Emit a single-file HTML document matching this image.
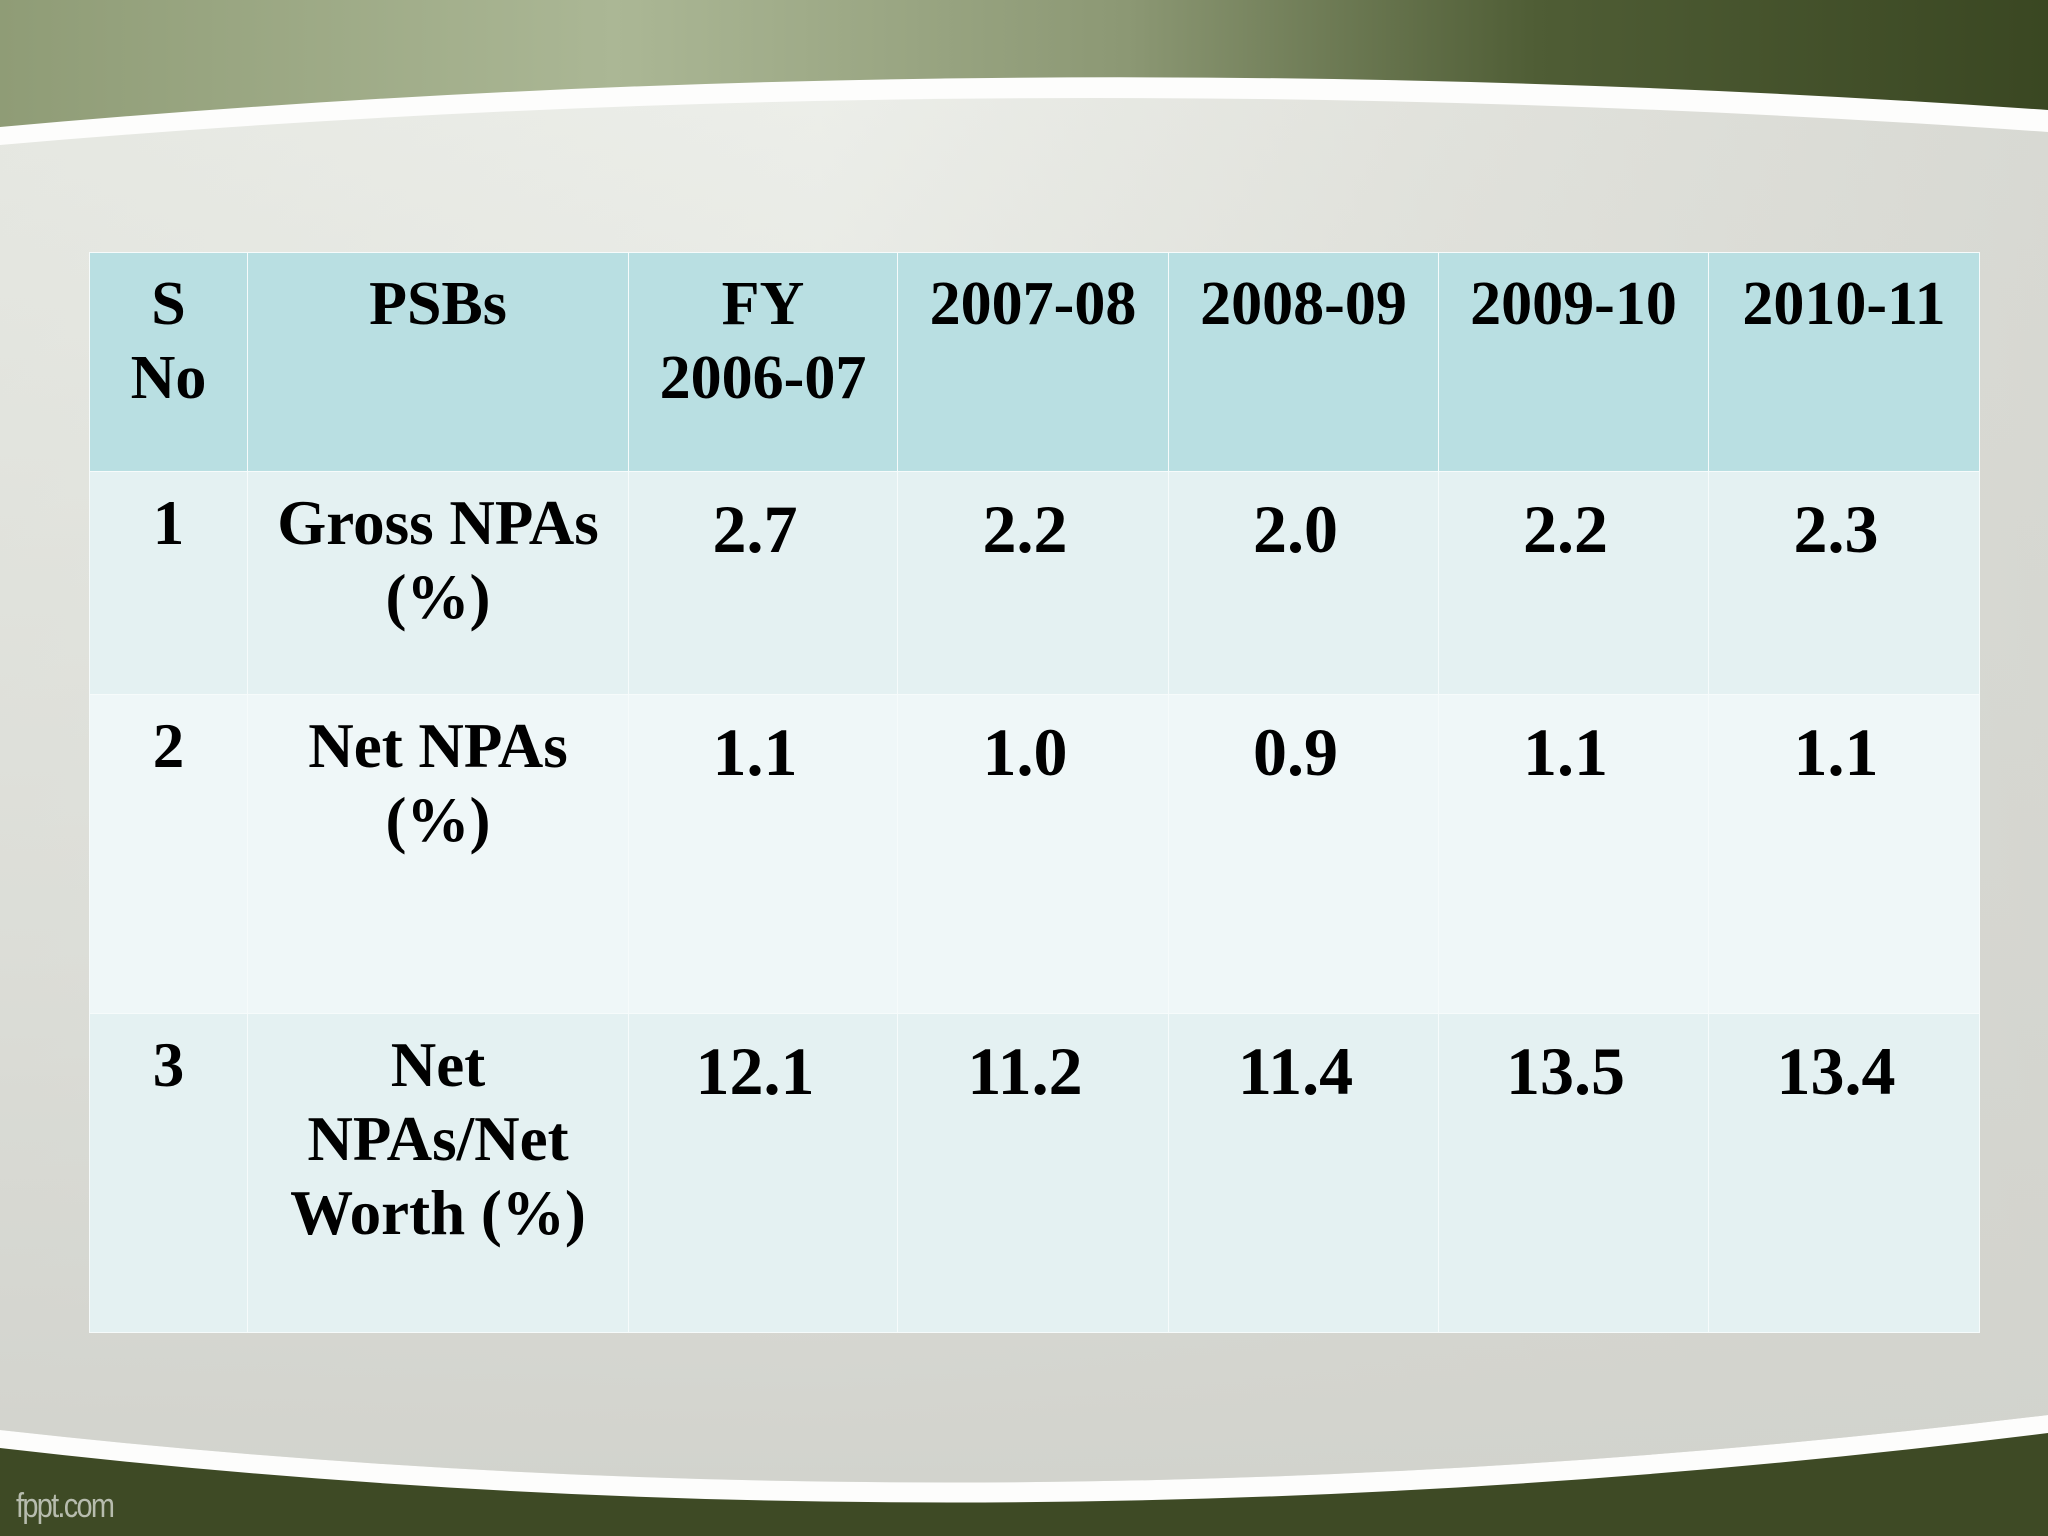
<!DOCTYPE html>
<html><head><meta charset="utf-8"><style>
html,body{margin:0;padding:0;width:2048px;height:1536px;overflow:hidden}
#bg{position:absolute;left:0;top:0}
table{position:absolute;left:89px;top:252px;width:1890px;border-collapse:collapse;font-family:"Liberation Serif",serif;font-weight:bold;color:#000;table-layout:fixed}
td{border:1.5px solid #f6fbfb;vertical-align:top;text-align:center;font-size:63px;line-height:74px;padding:14px 4px 0 4px;box-sizing:border-box}
tr.h td{font-size:62px}
tr.h td{background:#b9dfe2}
tr.r1 td,tr.r3 td{background:#e4f1f2}
tr.r2 td{background:#eff7f8}
td.v{font-size:68px;padding-top:20px;padding-right:20px}
#logo{position:absolute;left:16px;top:1487px;font-family:"Liberation Sans",sans-serif;font-size:34px;color:#b7bcae;letter-spacing:-2px;transform:scaleX(0.85);transform-origin:left}
</style></head><body>
<svg id="bg" width="2048" height="1536" viewBox="0 0 2048 1536">
<defs>
<linearGradient id="g" x1="0" x2="1" y1="0" y2="0">
<stop offset="0" stop-color="#8f9c76"/><stop offset="0.3" stop-color="#abb795"/><stop offset="0.55" stop-color="#8c9874"/><stop offset="0.75" stop-color="#4f5d35"/><stop offset="1" stop-color="#3a4722"/></linearGradient>
<linearGradient id="p" x1="0" x2="1" y1="0" y2="0">
<stop offset="0" stop-color="#e6e8e2"/><stop offset="0.4" stop-color="#eceee9"/><stop offset="0.7" stop-color="#e1e2dc"/><stop offset="1" stop-color="#d8d9d3"/></linearGradient>
<linearGradient id="pv" x1="0" x2="0" y1="0" y2="1">
<stop offset="0" stop-color="#d2d3cd" stop-opacity="0"/><stop offset="0.6" stop-color="#d2d3cd" stop-opacity="0.5"/><stop offset="1" stop-color="#d2d3cd" stop-opacity="1"/></linearGradient>
</defs>
<rect width="2048" height="1536" fill="url(#g)"/>
<rect y="1380" width="2048" height="156" fill="#3e4a25"/>
<path d="M0 127 Q1000 37 2048 110 L2048 1433 Q1000 1564 0 1448 Z" fill="#fdfdfc"/>
<path d="M0 145 Q1000 58 2048 132 L2048 1415 Q1000 1542 0 1430 Z" fill="url(#p)"/>
<path d="M0 145 Q1000 58 2048 132 L2048 1415 Q1000 1542 0 1430 Z" fill="url(#pv)"/>
</svg>
<table>
<colgroup><col style="width:158px"><col style="width:381px"><col style="width:269px"><col style="width:271px"><col style="width:270px"><col style="width:270px"><col style="width:271px"></colgroup>
<tr class="h" style="height:219px">
<td>S<br>No</td>
<td>PSBs</td>
<td>FY<br>2006-07</td>
<td>2007-08</td>
<td>2008-09</td>
<td>2009-10</td>
<td>2010-11</td></tr>
<tr class="r1" style="height:223px">
<td>1</td><td>Gross NPAs<br>(%)</td><td class="v">2.7</td><td class="v">2.2</td><td class="v">2.0</td><td class="v">2.2</td><td class="v">2.3</td></tr>
<tr class="r2" style="height:319px">
<td>2</td><td>Net NPAs<br>(%)</td><td class="v">1.1</td><td class="v">1.0</td><td class="v">0.9</td><td class="v">1.1</td><td class="v">1.1</td></tr>
<tr class="r3" style="height:319px">
<td>3</td><td>Net<br>NPAs/Net<br>Worth (%)</td><td class="v">12.1</td><td class="v">11.2</td><td class="v">11.4</td><td class="v">13.5</td><td class="v">13.4</td></tr>
</table>
<div id="logo">fppt.com</div>
</body></html>
